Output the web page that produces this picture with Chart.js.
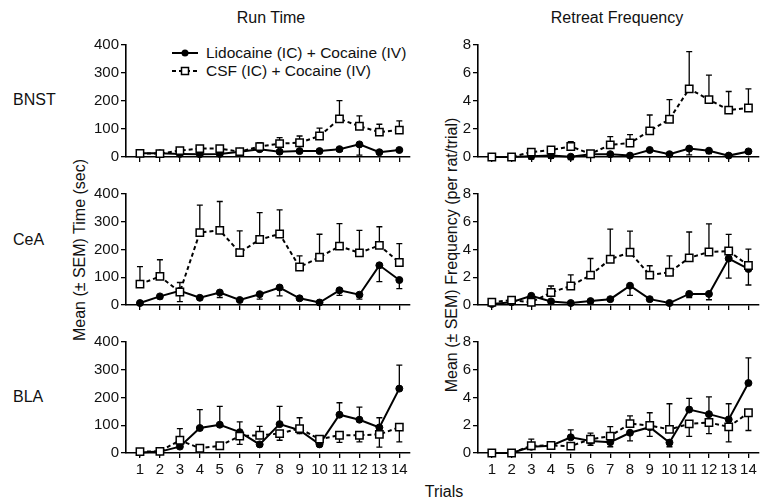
<!DOCTYPE html>
<html><head><meta charset="utf-8">
<script src="https://cdn.jsdelivr.net/npm/chart.js@4"></script>
<style>
body{margin:0;background:#fff;width:765px;height:502px;overflow:hidden;position:relative;font-family:"Liberation Sans",Arial,sans-serif;color:#111}
canvas{position:absolute}
.t{position:absolute;white-space:nowrap;font-size:16px;transform:translate(-50%,-50%)}
.r{position:absolute;white-space:nowrap;font-size:16px;transform:translate(0,-50%)}
.v{position:absolute;white-space:nowrap;font-size:16px;transform:translate(-50%,-50%) rotate(-90deg)}
.leg{position:absolute;left:170px;font-size:15.5px;display:flex;align-items:center;white-space:nowrap}
.leg svg{margin-right:6px}
</style></head><body>

<div class="t" style="left:271px;top:18px">Run Time</div>
<div class="t" style="left:617px;top:18px">Retreat Frequency</div>
<div class="r" style="left:13px;top:100px">BNST</div>
<div class="r" style="left:13px;top:240px">CeA</div>
<div class="r" style="left:13px;top:397px">BLA</div>
<div class="v" style="left:80px;top:250px">Mean (± SEM) Time (sec)</div>
<div class="v" style="left:452px;top:255px">Mean (± SEM) Frequency (per rat/trial)</div>
<div class="t" style="left:444px;top:492px">Trials</div>

<div class="leg" style="top:44px"><svg width="30" height="14"><line x1="2" y1="7" x2="28" y2="7" stroke="#000" stroke-width="2"/><circle cx="15" cy="7" r="3.5" fill="#000"/></svg><span>Lidocaine (IC) + Cocaine (IV)</span></div>
<div class="leg" style="top:62px"><svg width="30" height="14"><line x1="2" y1="7" x2="28" y2="7" stroke="#000" stroke-width="2" stroke-dasharray="4,3"/><rect x="11.5" y="3.5" width="7" height="7" fill="#fff" stroke="#000" stroke-width="1.5"/></svg><span>CSF (IC) + Cocaine (IV)</span></div>

<canvas id="c1"></canvas><canvas id="c2"></canvas>
<canvas id="c3"></canvas><canvas id="c4"></canvas>
<canvas id="c5"></canvas><canvas id="c6"></canvas>

<script>
const trials = [1,2,3,4,5,6,7,8,9,10,11,12,13,14];
const timeTicks = [0,100,200,300,400];
const freqTicks = [0,2,4,6,8];

// Errors: positive = bar drawn upward, negative = bar drawn downward
const bnstTimeLido    = [13,13,11,10,11,19,28,19,21,21,28,45,17,25];
const bnstTimeLidoErr = [-3,-3,-6,-6,-6,-3,-6,-3,-3,-3,-8,-38,-5,-5];
const bnstTimeCsf     = [13,12,23,30,30,19,37,48,51,75,136,110,89,96];
const bnstTimeCsfErr  = [3,3,5,5,5,4,14,21,24,28,65,37,28,33];

const bnstFreqLido    = [0,0,0.05,0.1,0.02,0.2,0.2,0.1,0.5,0.2,0.6,0.45,0.1,0.4];
const bnstFreqLidoErr = [-0.05,-0.05,-0.2,-0.2,-0.2,-0.1,-0.1,-0.1,-0.1,-0.1,-0.45,-0.2,-0.1,-0.1];
const bnstFreqCsf     = [0,0,0.35,0.5,0.75,0.23,0.87,1.0,1.87,2.7,4.87,4.1,3.35,3.5];
const bnstFreqCsfErr  = [0,0,0.25,0.15,0.35,0.05,0.58,0.6,1.13,1.4,2.66,1.75,1.33,1.37];

const ceaTimeLido     = [7,31,51,26,45,18,39,63,24,9,53,37,143,90];
const ceaTimeLidoErr  = [-3,-8,30,-5,-18,-5,-18,-30,-5,-3,-18,-16,-59,-31];
const ceaTimeCsf      = [75,103,47,261,269,189,236,256,137,172,212,188,215,153];
const ceaTimeCsfErr   = [63,60,-35,99,104,78,97,87,40,83,81,81,67,68];

const ceaFreqLido     = [0.07,0.2,0.66,0.26,0.14,0.28,0.42,1.39,0.42,0.14,0.8,0.8,3.35,2.6];
const ceaFreqLidoErr  = [-0.05,-0.1,-0.1,-0.1,-0.1,-0.1,-0.1,-0.69,-0.1,-0.1,-0.26,-0.42,-1.42,-1.16];
const ceaFreqCsf      = [0.2,0.35,0.2,0.9,1.37,2.15,3.3,3.8,2.15,2.36,3.4,3.82,3.89,2.85];
const ceaFreqCsfErr   = [0.1,0.1,-0.1,0.47,0.8,1.2,2.17,1.53,0.68,1.18,1.86,2.03,1.2,1.18];

const blaTimeLido     = [2,5,23,90,102,75,31,104,82,31,138,120,92,232];
const blaTimeLidoErr  = [2,3,8,66,66,37,5,64,-12,5,43,45,35,85];
const blaTimeCsf      = [5,6,46,17,26,61,64,70,88,50,64,64,67,93];
const blaTimeCsfErr   = [-3,-3,42,-5,-5,-30,32,-24,39,-8,-26,-24,-46,-53];

const blaFreqLido     = [0,0,0.45,0.52,1.13,0.87,0.78,1.46,1.86,0.75,3.13,2.8,2.42,5.04];
const blaFreqLidoErr  = [0,0,-0.1,-0.1,0.54,-0.31,-0.33,-0.59,-0.66,-0.3,0.8,1.25,1.13,1.81];
const blaFreqCsf      = [0,0,0.52,0.54,0.5,0.99,1.22,2.12,1.98,1.7,2.1,2.2,1.88,2.9];
const blaFreqCsfErr   = [0,0,0.48,-0.2,-0.1,0.44,0.68,0.56,0.92,1.85,-0.9,-0.81,-1.08,-1.28];

Chart.defaults.font.family = '"Liberation Sans", Arial, sans-serif';
Chart.defaults.font.size = 15;
Chart.defaults.color = '#111';

const errorBars = {
  id: 'errorBars',
  beforeDatasetsDraw(chart) {
    const ctx = chart.ctx, ys = chart.scales.y;
    ctx.save();
    ctx.strokeStyle = '#000';
    ctx.lineWidth = 1.3;
    chart.data.datasets.forEach((ds, di) => {
      const meta = chart.getDatasetMeta(di);
      ds.errors.forEach((e, i) => {
        if (!e) return;
        const pt = meta.data[i];
        const yEnd = ys.getPixelForValue(ds.data[i].y + e);
        ctx.beginPath();
        ctx.moveTo(pt.x, pt.y);
        ctx.lineTo(pt.x, yEnd);
        ctx.moveTo(pt.x - 3, yEnd);
        ctx.lineTo(pt.x + 3, yEnd);
        ctx.stroke();
      });
    });
    ctx.restore();
  }
};

function panel(id, left, top, width, plotH, showX, lido, lidoErr, csf, csfErr, yTicks) {
  const xH = showX ? 30 : 10;
  const cv = document.getElementById(id);
  cv.width = width; cv.height = 10 + plotH + xH;
  cv.style.left = left + 'px'; cv.style.top = top + 'px';
  const pts = arr => trials.map((t, i) => ({x: t, y: arr[i]}));
  new Chart(cv, {
    type: 'line',
    data: {
      datasets: [
        {data: pts(lido), errors: lidoErr, order: 2, borderColor: '#000', borderWidth: 2,
         pointStyle: 'circle', pointRadius: 3.5, pointBackgroundColor: '#000', pointBorderColor: '#000',
         pointBorderWidth: 1, tension: 0, clip: false},
        {data: pts(csf), errors: csfErr, order: 1, borderColor: '#000', borderWidth: 2, borderDash: [4, 3],
         pointStyle: 'rect', pointRadius: 5.2, pointBackgroundColor: '#fff', pointBorderColor: '#000',
         pointBorderWidth: 1.5, tension: 0, clip: false}
      ]
    },
    options: {
      responsive: false, animation: false, events: [],
      layout: {padding: {top: 10, left: 0, right: 0, bottom: 0}},
      plugins: {legend: {display: false}, tooltip: {enabled: false}},
      scales: {
        x: {type: 'linear', min: 0.3, max: 14.5,
            afterBuildTicks: s => { s.ticks = trials.map(v => ({value: v})); },
            afterFit: s => { s.height = xH; },
            grid: {display: true, drawOnChartArea: false, drawTicks: true, tickLength: 5, color: '#000', lineWidth: 1.3},
            border: {display: true, color: '#000', width: 1.6},
            ticks: {display: showX, padding: 3, maxRotation: 0, autoSkip: false, callback: v => String(v)}},
        y: {type: 'linear', min: yTicks[0], max: yTicks[yTicks.length - 1],
            afterBuildTicks: s => { s.ticks = yTicks.map(v => ({value: v})); },
            afterFit: s => { s.width = 50; },
            grid: {display: true, drawOnChartArea: false, drawTicks: true, tickLength: 5, color: '#000', lineWidth: 1.3},
            border: {display: true, color: '#000', width: 1.6},
            ticks: {padding: 2}}
      }
    },
    plugins: [errorBars]
  });
}

panel('c1', 76, 34, 340, 114, false, bnstTimeLido, bnstTimeLidoErr, bnstTimeCsf, bnstTimeCsfErr, timeTicks);
panel('c2', 428, 34, 337, 114, false, bnstFreqLido, bnstFreqLidoErr, bnstFreqCsf, bnstFreqCsfErr, freqTicks);
panel('c3', 76, 183, 340, 113, false, ceaTimeLido, ceaTimeLidoErr, ceaTimeCsf, ceaTimeCsfErr, timeTicks);
panel('c4', 428, 183, 337, 113, false, ceaFreqLido, ceaFreqLidoErr, ceaFreqCsf, ceaFreqCsfErr, freqTicks);
panel('c5', 76, 331, 340, 112, true, blaTimeLido, blaTimeLidoErr, blaTimeCsf, blaTimeCsfErr, timeTicks);
panel('c6', 428, 331, 337, 112, true, blaFreqLido, blaFreqLidoErr, blaFreqCsf, blaFreqCsfErr, freqTicks);
</script>
</body></html>
